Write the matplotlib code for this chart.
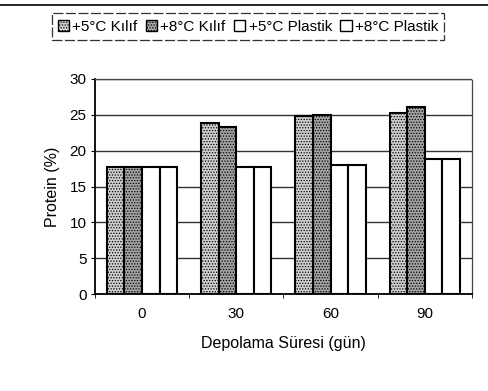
import numpy as np
import matplotlib

matplotlib.use("Agg")
import matplotlib.pyplot as plt
from matplotlib.patches import Patch
from matplotlib.lines import Line2D

plt.rcParams["font.family"] = ["Liberation Sans", "DejaVu Sans"]
plt.rcParams["hatch.linewidth"] = 0.6
plt.rcParams["hatch.color"] = "#6f6f6f"

days = ["0", "30", "60", "90"]
series = ["+5°C Kılıf", "+8°C Kılıf", "+5°C Plastik", "+8°C Plastik"]
kilif_5 = [17.7, 23.9, 24.8, 25.3]
kilif_8 = [17.7, 23.3, 25.0, 26.1]
plastik_5 = [17.7, 17.7, 18.0, 18.9]
plastik_8 = [17.7, 17.7, 18.0, 18.9]
y_ticks = [0, 5, 10, 15, 20, 25, 30]

values = [kilif_5, kilif_8, plastik_5, plastik_8]
faces = ["#cfcfcf", "#a3a3a3", "white", "white"]
hatches = ["......", "......", None, None]

fig = plt.figure(figsize=(4.89, 3.91), dpi=100)
ax = fig.add_axes([0.194, 0.248, 0.771, 0.550])

x = np.arange(len(days))
w = 0.186
for i, (vals, fc, h) in enumerate(zip(values, faces, hatches)):
    ax.bar(x + (i - 1.5) * w, vals, w, color=fc, edgecolor="black",
           linewidth=1.5, hatch=h, zorder=3)

ax.set_xlim(-0.5, 3.5)
ax.set_ylim(0, 30)
ax.set_yticks(y_ticks)
ax.yaxis.grid(True, color="#333333", linewidth=1.0, zorder=0)
ax.set_xticks(x)
ax.set_xticklabels(days, fontsize=11)
ax.tick_params(axis="x", which="major", length=0, pad=9)
ax.set_xticks(np.arange(-0.5, 4, 1), minor=True)
ax.tick_params(axis="x", which="minor", length=3, direction="out")
ax.tick_params(axis="y", length=3, direction="out", labelsize=11, pad=3)
for s in ["top", "right"]:
    ax.spines[s].set_linestyle((0, (1, 1)))
    ax.spines[s].set_color("#444444")
    ax.spines[s].set_linewidth(0.9)
for s in ["left", "bottom"]:
    ax.spines[s].set_color("black")
    ax.spines[s].set_linewidth(1.3)

ax.set_ylabel("Protein (%)", fontsize=11.5, labelpad=7)
ax.set_xlabel("Depolama Süresi (gün)", fontsize=11.5, labelpad=11)

handles = [Patch(facecolor=fc, edgecolor="black", hatch=h, linewidth=1.0)
           for fc, h in zip(faces, hatches)]
leg = fig.legend(handles, series, loc="center", bbox_to_anchor=(0.507, 0.932),
                 ncol=4, fontsize=11, frameon=True, fancybox=False,
                 handlelength=0.75, handleheight=0.75, handletextpad=0.2,
                 columnspacing=0.55, borderpad=0.4)
leg.get_frame().set_edgecolor("black")
leg.get_frame().set_linewidth(0.9)
leg.get_frame().set_linestyle((0, (8, 2)))

fig.add_artist(Line2D([0, 1], [0.987, 0.987], transform=fig.transFigure,
                      color="black", linewidth=1.2))

fig.savefig("out.png", dpi=100)
